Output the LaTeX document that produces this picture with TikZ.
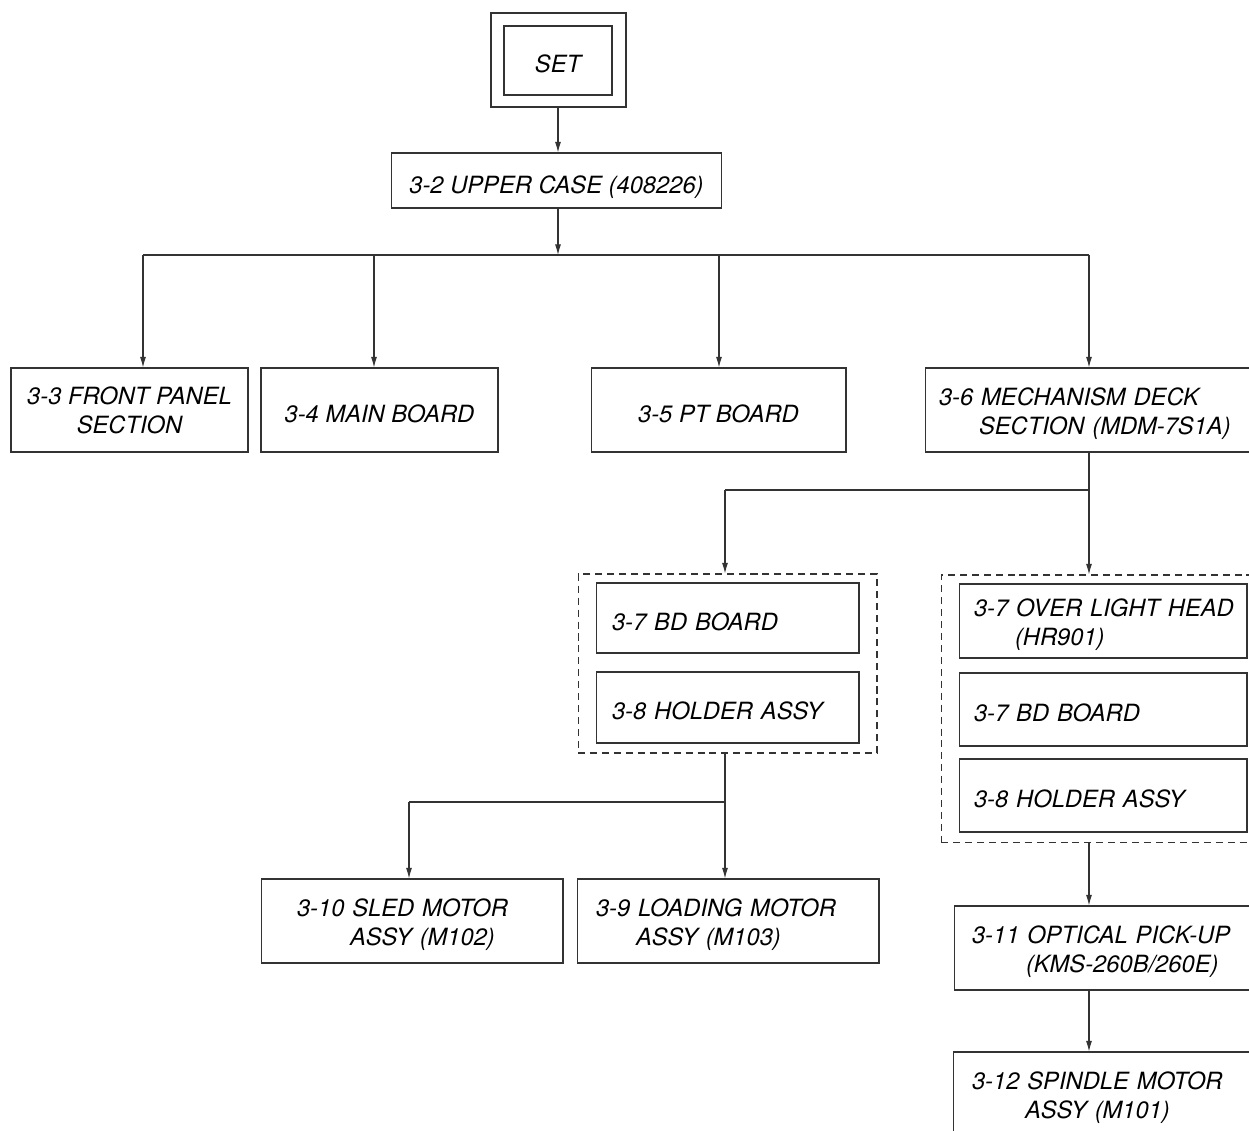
\documentclass[tikz,border=0pt]{standalone}
\usepackage{fontspec}
\setmainfont{TeX Gyre Heros}
\usepackage{tikz}
\usetikzlibrary{arrows.meta}
\definecolor{linegray}{gray}{0.2}
\tikzset{
  box/.style={draw=linegray,rectangle,line width=0.6pt,inner xsep=0.12cm,align=left,
    font=\fontsize{13.5}{16.5}\selectfont\itshape,
    execute at begin node={\rule{0pt}{14pt}}},
  cbox/.style={box,align=center},
  grp/.style={draw=linegray,rectangle,line width=0.6pt,dash pattern=on 4pt off 2.8pt},
  arr/.style={draw=linegray,line width=0.6pt,-{Latex[length=6pt,width=3.4pt]}},
  ln/.style={draw=linegray,line width=0.6pt}
}
\begin{document}
\begin{tikzpicture}[x=0.02cm,y=-0.02cm]
\clip (0,0) rectangle (1249,1131);

% top
\node [cbox,minimum width=2.70cm,minimum height=1.88cm] (setout) at(558.5,60){};
\node [cbox,minimum width=2.16cm,minimum height=1.38cm] (set) at(558,60.5){SET};
\node [cbox,minimum width=6.62cm,minimum height=1.10cm,
  execute at begin node={\rule{0pt}{18pt}}] (uc) at(556.5,180.5){3-2 UPPER CASE (408226)};

% second row
\node [cbox,minimum width=4.74cm,minimum height=1.68cm] (fp) at(129.5,410){3-3 FRONT PANEL\\SECTION};
\node [cbox,minimum width=4.74cm,minimum height=1.68cm] (mb) at(379.5,410){3-4 MAIN BOARD};
\node [cbox,minimum width=5.10cm,minimum height=1.68cm] (pt) at(718.5,410){3-5 PT BOARD};
\node [box,text width=6.50cm,minimum height=1.68cm] (md) at(1093.5,410)
  {\hspace*{0.16cm}3-6 MECHANISM DECK\\\hspace*{0.96cm}SECTION (MDM-7S1A)};

% left group
\node [grp,minimum width=5.98cm,minimum height=3.58cm] (grpl) at(727.5,663.5){};
\node [box,text width=5.02cm,minimum height=1.40cm] (bdl) at(727.5,618){\hspace*{0.20cm}3-7 BD BOARD};
\node [box,text width=5.02cm,minimum height=1.42cm] (hol) at(727.5,707.5){\hspace*{0.20cm}3-8 HOLDER ASSY};

% right group
\node [grp,minimum width=6.42cm,minimum height=5.36cm] (grpr) at(1101.5,709){};
\node [box,text width=5.52cm,minimum height=1.48cm] (olh) at(1103,621)
  {\hspace*{0.18cm}3-7 OVER LIGHT HEAD\\\hspace*{1.00cm}(HR901)};
\node [box,text width=5.52cm,minimum height=1.46cm] (bdr) at(1103,709.5){\hspace*{0.18cm}3-7 BD BOARD};
\node [box,text width=5.52cm,minimum height=1.46cm] (hor) at(1103,795.5){\hspace*{0.18cm}3-8 HOLDER ASSY};

% motors
\node [box,text width=5.80cm,minimum height=1.68cm] (sled) at(412,921)
  {\hspace*{0.60cm}3-10 SLED MOTOR\\\hspace*{1.66cm}ASSY (M102)};
\node [box,text width=5.80cm,minimum height=1.68cm] (load) at(728,921)
  {\hspace*{0.26cm}3-9 LOADING MOTOR\\\hspace*{1.06cm}ASSY (M103)};
\node [box,text width=5.92cm,minimum height=1.68cm] (opu) at(1108,948)
  {\hspace*{0.24cm}3-11 OPTICAL PICK-UP\\\hspace*{1.32cm}(KMS-260B/260E)};
\node [box,text width=5.94cm,minimum height=1.68cm] (spm) at(1107.5,1094)
  {\hspace*{0.26cm}3-12 SPINDLE MOTOR\\\hspace*{1.32cm}ASSY (M101)};

% branch points
\coordinate (j1) at (558,255);
\coordinate (t1) at (143,255);
\coordinate (t2) at (374,255);
\coordinate (t3) at (719,255);
\coordinate (t4) at (1089,255);
\coordinate (m0) at (725,490);
\coordinate (m1) at (1089,490);
\coordinate (b0) at (409,802);
\coordinate (b1) at (725,802);

\draw [arr] (setout.south -| j1) -- (j1 |- uc.north);
\draw [arr] (uc.south -| j1) -- (j1);
\draw [ln] (t1) -- (t4);
\draw [arr] (t1) -- (t1 |- fp.north);
\draw [arr] (t2) -- (t2 |- mb.north);
\draw [arr] (t3) -- (t3 |- pt.north);
\draw [arr] (t4) -- (t4 |- md.north);

\draw [ln] (md.south -| m1) -- (m1) -- (m0);
\draw [arr] (m0) -- (m0 |- grpl.north);
\draw [arr] (m1) -- (m1 |- grpr.north);

\draw [ln] (grpl.south -| b1) -- (b1) -- (b0);
\draw [arr] (b0) -- (b0 |- sled.north);
\draw [arr] (b1) -- (b1 |- load.north);

\draw [arr] (grpr.south -| m1) -- (m1 |- opu.north);
\draw [arr] (opu.south -| m1) -- (m1 |- spm.north);
\end{tikzpicture}
\end{document}
